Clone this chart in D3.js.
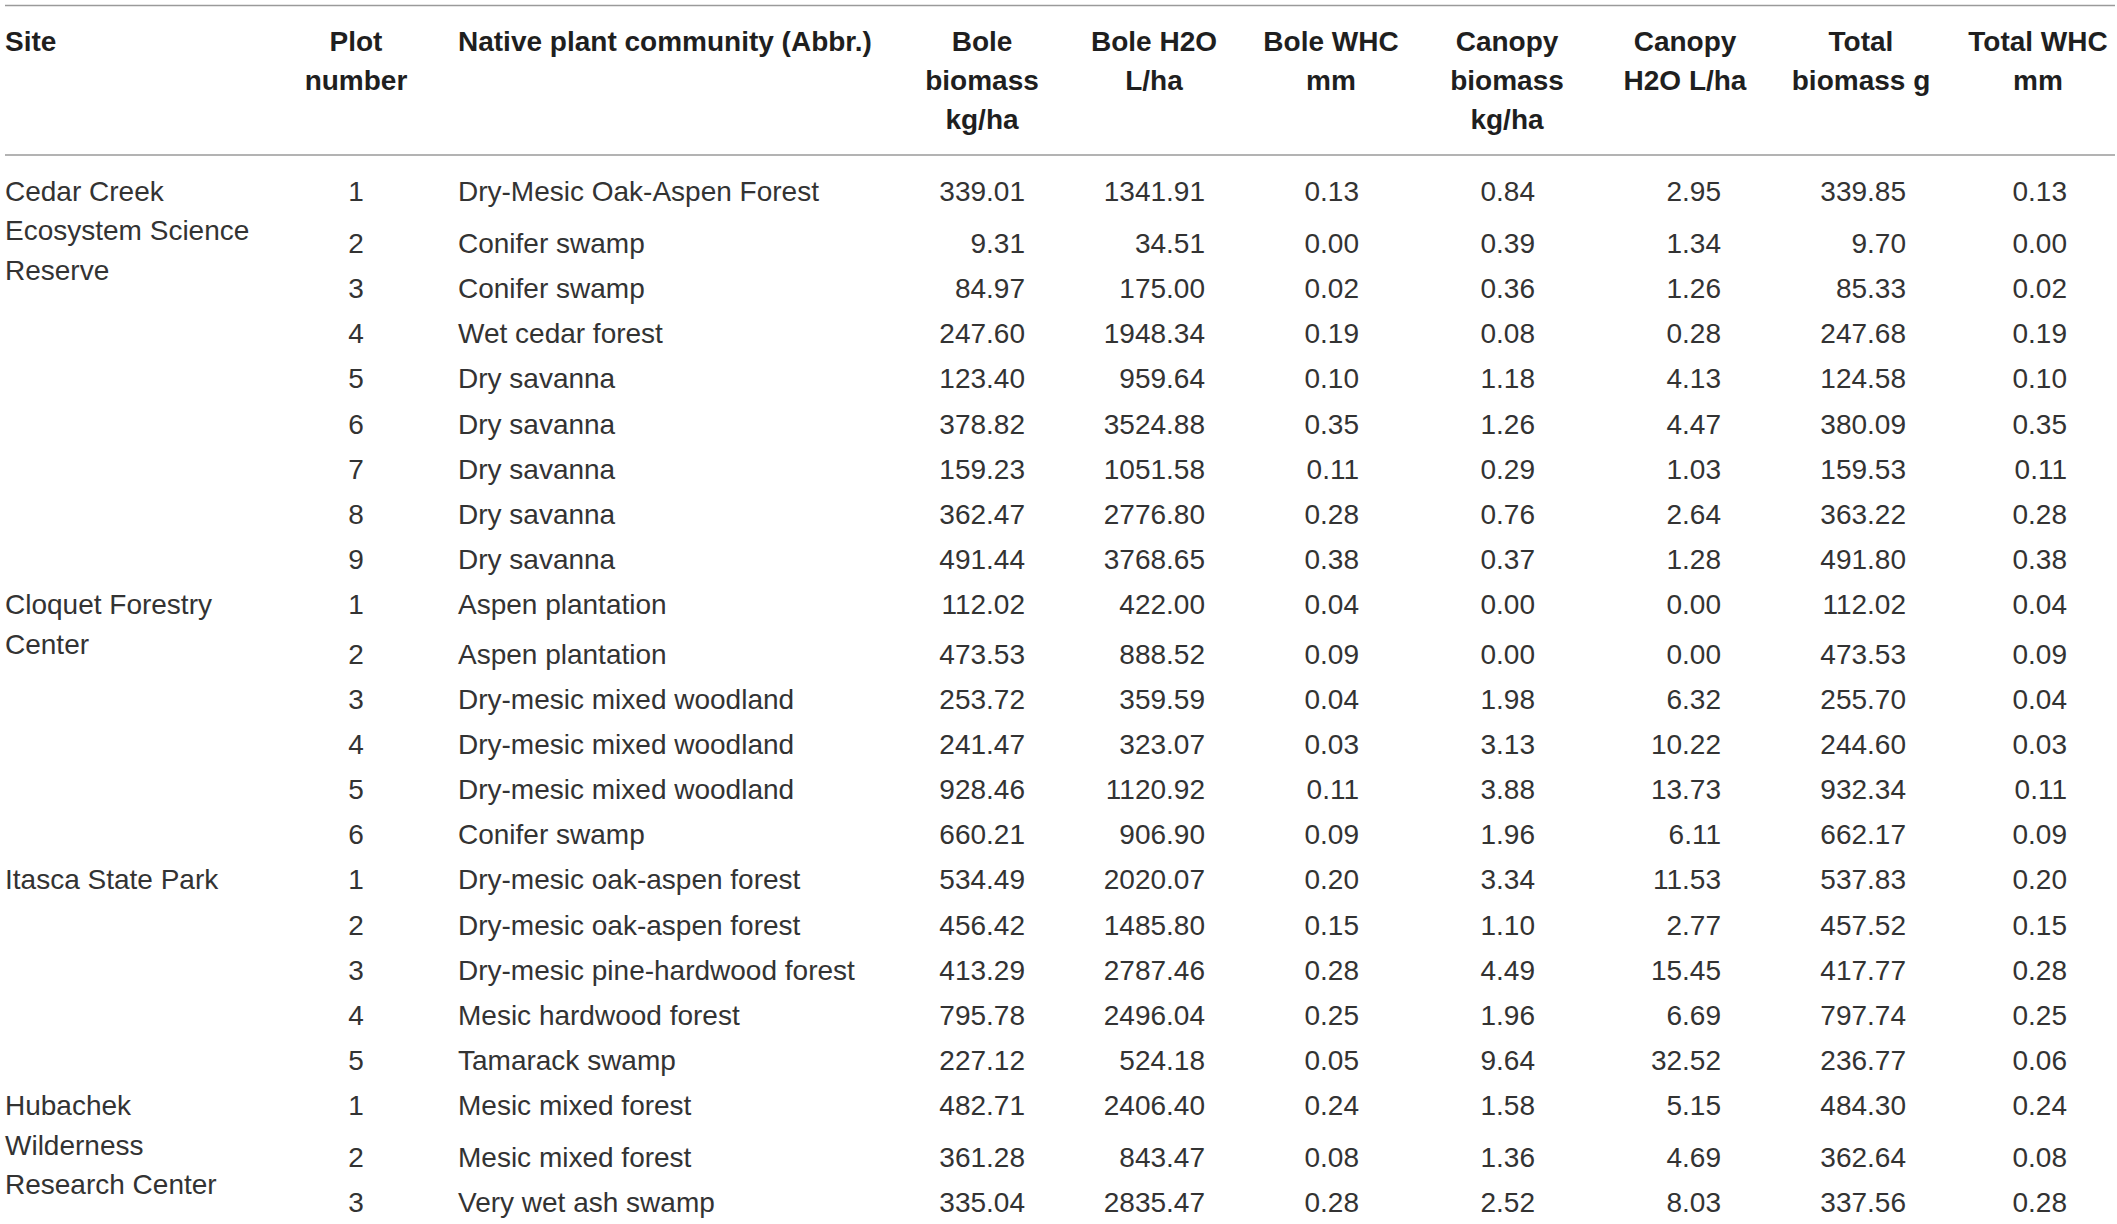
<!DOCTYPE html>
<html>
<head>
<meta charset="utf-8">
<script src="https://cdn.jsdelivr.net/npm/d3@7"></script>
<style>
  html, body { margin: 0; padding: 0; background: #ffffff; }
  svg { display: block; }
</style>
</head>
<body>
<div id="chart"></div>
<script>
// ---------------- DATA ----------------
const sites = [
  "Cedar Creek Ecosystem Science Reserve",
  "Cloquet Forestry Center",
  "Itasca State Park",
  "Hubachek Wilderness Research Center"
];
const siteLines = [
  ["Cedar Creek", "Ecosystem Science", "Reserve"],
  ["Cloquet Forestry", "Center"],
  ["Itasca State Park"],
  ["Hubachek", "Wilderness", "Research Center"]
];
const rowSite = [0,0,0,0,0,0,0,0,0, 1,1,1,1,1,1, 2,2,2,2,2, 3,3,3];
const plotNumbers = [1,2,3,4,5,6,7,8,9, 1,2,3,4,5,6, 1,2,3,4,5, 1,2,3];
const communities = [
  "Dry-Mesic Oak-Aspen Forest", "Conifer swamp", "Conifer swamp", "Wet cedar forest",
  "Dry savanna", "Dry savanna", "Dry savanna", "Dry savanna", "Dry savanna",
  "Aspen plantation", "Aspen plantation", "Dry-mesic mixed woodland", "Dry-mesic mixed woodland",
  "Dry-mesic mixed woodland", "Conifer swamp",
  "Dry-mesic oak-aspen forest", "Dry-mesic oak-aspen forest", "Dry-mesic pine-hardwood forest",
  "Mesic hardwood forest", "Tamarack swamp",
  "Mesic mixed forest", "Mesic mixed forest", "Very wet ash swamp"
];
const boleBiomass = [339.01, 9.31, 84.97, 247.60, 123.40, 378.82, 159.23, 362.47, 491.44,
  112.02, 473.53, 253.72, 241.47, 928.46, 660.21,
  534.49, 456.42, 413.29, 795.78, 227.12,
  482.71, 361.28, 335.04];
const boleH2O = [1341.91, 34.51, 175.00, 1948.34, 959.64, 3524.88, 1051.58, 2776.80, 3768.65,
  422.00, 888.52, 359.59, 323.07, 1120.92, 906.90,
  2020.07, 1485.80, 2787.46, 2496.04, 524.18,
  2406.40, 843.47, 2835.47];
const boleWHC = [0.13, 0.00, 0.02, 0.19, 0.10, 0.35, 0.11, 0.28, 0.38,
  0.04, 0.09, 0.04, 0.03, 0.11, 0.09,
  0.20, 0.15, 0.28, 0.25, 0.05,
  0.24, 0.08, 0.28];
const canopyBiomass = [0.84, 0.39, 0.36, 0.08, 1.18, 1.26, 0.29, 0.76, 0.37,
  0.00, 0.00, 1.98, 3.13, 3.88, 1.96,
  3.34, 1.10, 4.49, 1.96, 9.64,
  1.58, 1.36, 2.52];
const canopyH2O = [2.95, 1.34, 1.26, 0.28, 4.13, 4.47, 1.03, 2.64, 1.28,
  0.00, 0.00, 6.32, 10.22, 13.73, 6.11,
  11.53, 2.77, 15.45, 6.69, 32.52,
  5.15, 4.69, 8.03];
const totalBiomass = [339.85, 9.70, 85.33, 247.68, 124.58, 380.09, 159.53, 363.22, 491.80,
  112.02, 473.53, 255.70, 244.60, 932.34, 662.17,
  537.83, 457.52, 417.77, 797.74, 236.77,
  484.30, 362.64, 337.56];
const totalWHC = [0.13, 0.00, 0.02, 0.19, 0.10, 0.35, 0.11, 0.28, 0.38,
  0.04, 0.09, 0.04, 0.03, 0.11, 0.09,
  0.20, 0.15, 0.28, 0.25, 0.06,
  0.24, 0.08, 0.28];
const headerLabels = [
  ["Site"],
  ["Plot", "number"],
  ["Native plant community (Abbr.)"],
  ["Bole", "biomass", "kg/ha"],
  ["Bole H2O", "L/ha"],
  ["Bole WHC", "mm"],
  ["Canopy", "biomass", "kg/ha"],
  ["Canopy", "H2O L/ha"],
  ["Total", "biomass g"],
  ["Total WHC", "mm"]
];

// ---------------- LAYOUT ----------------
const W = 2117, H = 1224;
const FONT = "'Liberation Sans', Arial, Helvetica, sans-serif";
const FS = 28;

// column layout: header anchor/x and cell anchor/x
const columns = [
  {key: "site",  hx: 5,    ha: "start",  cx: 5,    ca: "start"},
  {key: "plot",  hx: 356,  ha: "middle", cx: 356,  ca: "middle"},
  {key: "comm",  hx: 458,  ha: "start",  cx: 458,  ca: "start"},
  {key: "bb",    hx: 982,  ha: "middle", cx: 1025, ca: "end"},
  {key: "bh",    hx: 1154, ha: "middle", cx: 1205, ca: "end"},
  {key: "bw",    hx: 1331, ha: "middle", cx: 1359, ca: "end"},
  {key: "cb",    hx: 1507, ha: "middle", cx: 1535, ca: "end"},
  {key: "ch",    hx: 1685, ha: "middle", cx: 1721, ca: "end"},
  {key: "tb",    hx: 1861, ha: "middle", cx: 1906, ca: "end"},
  {key: "tw",    hx: 2038, ha: "middle", cx: 2067, ca: "end"}
];
const x = d3.scaleOrdinal().domain(columns.map(c => c.key)).range(columns.map(c => c.cx));
const xh = d3.scaleOrdinal().domain(columns.map(c => c.key)).range(columns.map(c => c.hx));

const fmt = d3.format(".2f");

// row units: uniform steps, with a little extra lead after the first row of a wrapped site name
const rows = plotNumbers.map((p, i) => ({
  i, site: rowSite[i], plot: p, comm: communities[i],
  vals: [boleBiomass[i], boleH2O[i], boleWHC[i], canopyBiomass[i], canopyH2O[i], totalBiomass[i], totalWHC[i]]
}));
let u = 0;
rows.forEach((r, i) => {
  if (i > 0) {
    u += 1;
    const prev = rows[i - 1];
    const firstOfSite = i === 0 || rowSite[i - 2] !== prev.site;
    if (prev.site === r.site && firstOfSite) {
      const n = siteLines[r.site].length;
      if (n === 2) u += 0.11;
      if (n >= 3) u += 0.16;
    }
  }
  r.u = u;
});
const y = d3.scaleLinear().domain([0, 1]).range([191, 191 + 45.1]);
const headerY = d3.scaleLinear().domain([0, 1]).range([41, 41 + 39.3]);
const siteLineStep = 39.6;

const svg = d3.select("#chart").append("svg")
  .attr("width", W).attr("height", H)
  .attr("viewBox", `0 0 ${W} ${H}`);

svg.append("rect").attr("width", W).attr("height", H).attr("fill", "#fff");

// rules
const rules = [5.5, 155];
svg.selectAll("line.rule").data(rules).enter().append("line")
  .attr("class", "rule")
  .attr("x1", 5).attr("x2", 2115)
  .attr("y1", d => d).attr("y2", d => d)
  .attr("stroke", "#9a9a9a").attr("stroke-width", 1.6);

// header
const hdr = svg.append("g").attr("font-family", FONT).attr("font-size", FS)
  .attr("font-weight", "bold").attr("fill", "#1f1f1f");
columns.forEach((c, ci) => {
  const t = hdr.append("text").attr("text-anchor", c.ha);
  headerLabels[ci].forEach((line, li) => {
    t.append("tspan").attr("x", xh(c.key)).attr("y", headerY(li)).attr("dy", "0.35em").text(line);
  });
});

// body
const body = svg.append("g").attr("font-family", FONT).attr("font-size", FS).attr("fill", "#333");

// site names (at first row of each site)
const siteFirst = sites.map((s, si) => rows.find(r => r.site === si));
siteFirst.forEach((r, si) => {
  const t = body.append("text").attr("text-anchor", "start");
  siteLines[si].forEach((line, li) => {
    t.append("tspan").attr("x", x("site")).attr("y", y(r.u) + li * siteLineStep).attr("dy", "0.35em").text(line);
  });
});

const rowG = body.selectAll("g.row").data(rows).enter().append("g").attr("class", "row");
rowG.append("text").attr("x", x("plot")).attr("y", d => y(d.u)).attr("dy", "0.35em")
  .attr("text-anchor", "middle").text(d => d.plot);
rowG.append("text").attr("x", x("comm")).attr("y", d => y(d.u)).attr("dy", "0.35em")
  .attr("text-anchor", "start").text(d => d.comm);
const valKeys = ["bb", "bh", "bw", "cb", "ch", "tb", "tw"];
valKeys.forEach((k, vi) => {
  rowG.append("text").attr("x", x(k)).attr("y", d => y(d.u)).attr("dy", "0.35em")
    .attr("text-anchor", "end").text(d => fmt(d.vals[vi]));
});
</script>
</body>
</html>
